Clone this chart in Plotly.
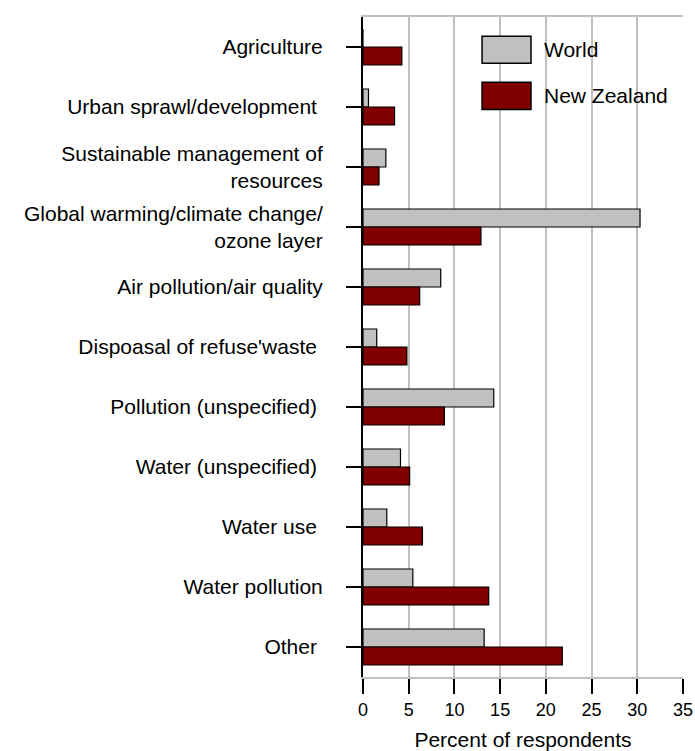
import plotly.graph_objects as go

categories = ["Agriculture", "Urban sprawl/development", "Sustainable management of resources",
              "Global warming/climate change/ozone layer", "Air pollution/air quality",
              "Dispoasal of refuse'waste", "Pollution (unspecified)", "Water (unspecified)",
              "Water use", "Water pollution", "Other"]
tick_labels = ["Agriculture", "Urban sprawl/development\u00a0", "Sustainable management of<br>resources",
               "Global warming/climate change/<br>ozone layer", "Air pollution/air quality",
               "Dispoasal of refuse'waste\u00a0", "Pollution (unspecified)\u00a0", "Water (unspecified)\u00a0",
               "Water use\u00a0", "Water pollution", "Other\u00a0"]
world = [0.0, 0.6, 2.5, 30.3, 8.5, 1.5, 14.3, 4.1, 2.6, 5.45, 13.25]
new_zealand = [4.25, 3.45, 1.75, 12.9, 6.2, 4.8, 8.9, 5.1, 6.5, 13.75, 21.8]
series_names = ["World", "New Zealand"]
x_ticks = [0, 5, 10, 15, 20, 25, 30, 35]

FONT = "Liberation Sans, Arial, sans-serif"

fig = go.Figure()
fig.add_trace(go.Bar(y=categories, x=world, orientation="h", name=series_names[0],
                     marker=dict(color="#c0c0c0", line=dict(color="black", width=1.2))))
fig.add_trace(go.Bar(y=categories, x=new_zealand, orientation="h", name=series_names[1],
                     marker=dict(color="#800000", line=dict(color="black", width=1.2))))

# manual legend (large swatches)
for i, (name, col) in enumerate(zip(series_names, ["#c0c0c0", "#800000"])):
    y1 = [0.971, 0.901][i]
    y0 = [0.930, 0.860][i]
    fig.add_shape(type="rect", xref="paper", yref="paper", x0=0.372, x1=0.525, y0=y0, y1=y1,
                  fillcolor=col, line=dict(color="black", width=1.5), layer="above")
    fig.add_annotation(xref="paper", yref="paper", x=0.56, y=(y0 + y1) / 2, text=name,
                       showarrow=False, xanchor="left", yanchor="middle",
                       font=dict(family=FONT, size=21, color="black"))

fig.update_layout(
    width=695, height=751,
    margin=dict(l=363, r=12, t=17, b=74, autoexpand=False),
    paper_bgcolor="white", plot_bgcolor="white",
    barmode="group", bargap=0.4, bargroupgap=0,
    showlegend=False,
    font=dict(family=FONT, size=18, color="black"),
)
fig.update_xaxes(range=[0, 35], tickvals=x_ticks, ticktext=[str(v) for v in x_ticks],
                 automargin=False,
                 showgrid=True, gridcolor="#c0c0c0", gridwidth=2,
                 showline=True, linecolor="#c0c0c0", linewidth=2, mirror=True,
                 ticks="outside", ticklen=15, tickwidth=2, tickcolor="black",
                 tickfont=dict(family=FONT, size=18),
                 zeroline=False,
                 title=dict(text="Percent of respondents", standoff=17,
                            font=dict(family=FONT, size=21)))
fig.update_yaxes(autorange="reversed", tickvals=categories, ticktext=tick_labels,
                 automargin=False,
                 tickfont=dict(family=FONT, size=21),
                 showline=True, linecolor="black", linewidth=2,
                 ticks="outside", ticklen=15, tickwidth=2, tickcolor="black",
                 ticklabelstandoff=19, showgrid=False)

fig.write_html("out.html", config={"displayModeBar": False},
               post_script="document.body.style.margin='0';document.body.style.overflow='hidden';")
